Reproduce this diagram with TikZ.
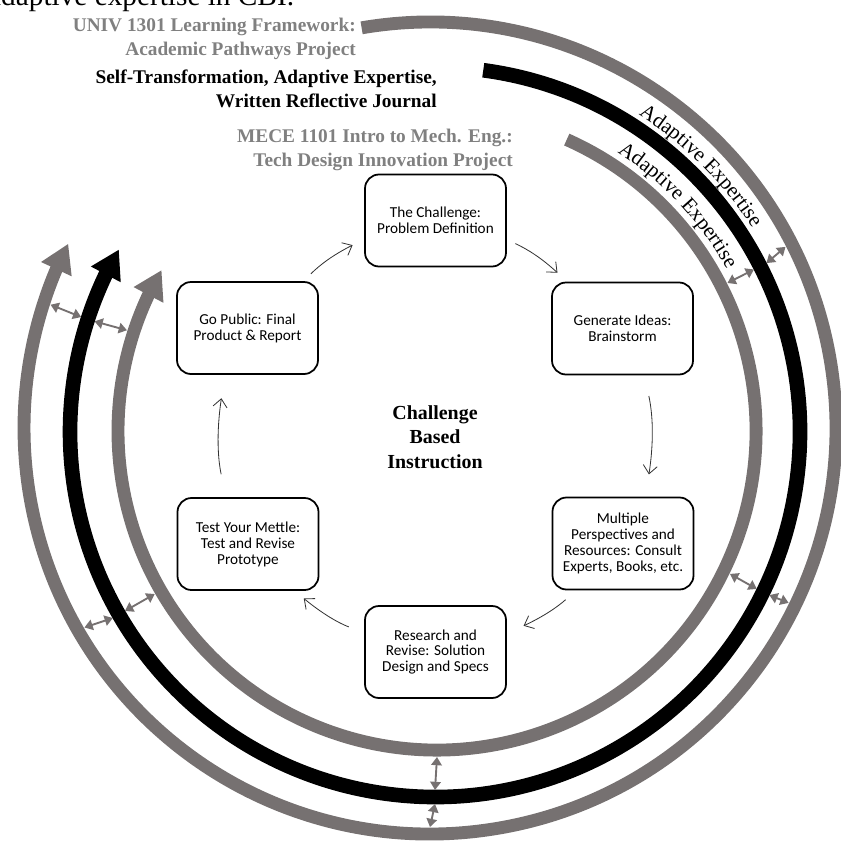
\documentclass[tikz,border=0pt]{standalone}
\usepackage{fontspec}
\setmainfont{Liberation Serif}
\newfontfamily\boxfont{Carlito}
\usetikzlibrary{arrows.meta,bending,calc,decorations.text}

\definecolor{ringgray}{RGB}{118,113,113}
\definecolor{labelgray}{RGB}{128,128,128}

\newcommand\arcfont{\fontsize{18}{20}\selectfont}

\begin{document}
\begin{tikzpicture}[x=0.03cm,y=0.03cm]
	\tikzstyle{stage}=[draw,line width=1.5pt,rounded corners=12pt,minimum width=4.23cm,minimum height=2.76cm,inner sep=1pt,align=center,font=\boxfont\fontsize{13}{13.6}\selectfont]
	\tikzstyle{flow}=[draw=black!80,line width=0.7pt,-{Straight Barb[length=7pt,width=12pt]}]
	\tikzstyle{ring}=[line width=11pt,draw=ringgray,-{Triangle[length=24pt,width=27pt]}]
	\tikzstyle{gap}=[draw=ringgray,line width=1.6pt,{Triangle[length=7pt,width=9pt]}-{Triangle[length=7pt,width=9pt]}]
	\tikzstyle{course}=[inner sep=0pt,align=right,font=\bfseries\fontsize{16.5}{21}\selectfont]

	\useasboundingbox (0,0) rectangle (841,-840);

	% caption line cut off at the top
	\node[anchor=base west,inner sep=0pt,font=\fontsize{25}{30}\selectfont] (cap) at (-12,-6) {adaptive expertise in CBI.};

	% centres of the three rings
	\coordinate (cout) at (430,-428);
	\coordinate (cmid) at (435,-432);
	\coordinate (cin) at (437,-431);

	% Draw the three rings
	\draw[ring] ([shift={(99.7:406)}]cout) arc[start angle=99.7,end angle=-207,radius=406];
	\draw[ring,draw=black,line width=12.5pt] ([shift={(82.4:365)}]cmid) arc[start angle=82.4,end angle=-210,radius=365];
	\draw[ring] ([shift={(66:319)}]cin) arc[start angle=66,end angle=-210.3,radius=319];

	% Connect the rings with small double arrows
	\foreach \a in {162,27,-26,-90,-150}{
		\draw[gap] ([shift={(\a:326)}]cin) -- ([shift={(\a:358)}]cmid);
		\draw[gap] ([shift={(\a:372)}]cmid) -- ([shift={(\a:399)}]cout);
	}

	% Adaptive Expertise along the rings
	\path[decorate,decoration={text along path,text align=center,text={|\arcfont|Adaptive Expertise}}] ([shift={(64:377)}]cmid) arc[start angle=64,end angle=26,radius=377];
	\path[decorate,decoration={text along path,text align=center,text={|\arcfont|Adaptive Expertise}}] ([shift={(62:334)}]cmid) arc[start angle=62,end angle=24,radius=334];

	% Annotate the rings
	\node[course,text=labelgray,anchor=east] (univ) at (356,-39) {UNIV 1301 Learning Framework:\\Academic Pathways Project};
	\node[course,anchor=east] (selftr) at (437,-89) {Self-Transformation, Adaptive Expertise,\\Written Reflective Journal};
	\node[course,text=labelgray,anchor=east] (mece) at (513,-150) {MECE 1101 Intro to Mech. Eng.:\\Tech Design Innovation Project};

	% Draw the six stages
	\node[stage] (chal) at (435.5,-220.5) {The Challenge:\\Problem Definition};
	\node[stage] (gen) at (622.5,-328.5) {Generate Ideas:\\Brainstorm};
	\node[stage] (mult) at (623,-543.5) {Multiple\\Perspectives and\\Resources: Consult\\Experts, Books, etc.};
	\node[stage] (res) at (435.5,-652) {Research and\\Revise: Solution\\Design and Specs};
	\node[stage] (test) at (248,-544) {Test Your Mettle:\\Test and Revise\\Prototype};
	\node[stage] (gopub) at (247.5,-328) {Go Public: Final\\Product \& Report};

	\node[font=\bfseries\fontsize{17}{21}\selectfont,align=center] (cbi) at (435,-437) {Challenge\\Based\\Instruction};

	% Connect the stages round the cycle
	\draw[flow,shorten <=9pt,shorten >=11pt] (gopub.40) to[bend left=10] (chal.195);
	\draw[flow,shorten <=8pt,shorten >=11pt] (chal.-15) to[bend left=10] (gen.140);
	\draw[flow,shorten <=18pt,shorten >=20pt] (gen.-65) to[bend left=12] (mult.65);
	\draw[flow,shorten <=12pt,shorten >=16pt] (mult.-135) to[bend left=10] (res.15);
	\draw[flow,shorten <=14pt,shorten >=10pt] (res.165) to[bend left=10] (test.-45);
	\draw[flow,shorten <=20pt,shorten >=21pt] (test.115) to[bend left=12] (gopub.-115);
\end{tikzpicture}
\end{document}
